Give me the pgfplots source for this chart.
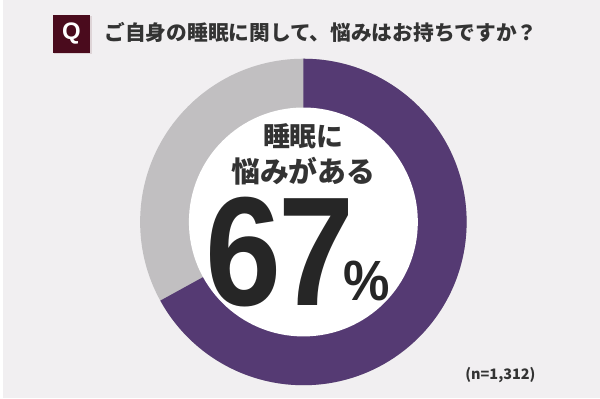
\documentclass[border=0pt]{standalone}
\usepackage{pgfplots}
\pgfplotsset{compat=1.18}
\usepackage{pgfplotstable}
\usepackage{fontspec}
\setmainfont{Liberation Sans}
\newfontfamily\jp{Noto Sans CJK JP}

\definecolor{bg}{HTML}{F1EFF1}
\definecolor{ringpurple}{HTML}{553A73}
\definecolor{ringgray}{HTML}{C1BFC1}
\definecolor{qbox}{HTML}{4A0B1D}
\definecolor{txt}{HTML}{333333}

% share of respondents (n=1,312)
\pgfplotstableread{
label value
yes 67
no 33
}\sleepdata

\begin{document}
\pgfplotstablegetelem{0}{value}\of\sleepdata
\let\yesval\pgfplotsretval
\pgfplotstablegetelem{1}{value}\of\sleepdata
\let\noval\pgfplotsretval
\pgfmathsetmacro{\yesangle}{360*(\yesval/(\yesval+\noval))}
\begin{tikzpicture}
  \begin{axis}[
    x=1pt, y=1pt,
    xmin=0, xmax=600, ymin=0, ymax=400,
    scale only axis, hide axis, clip=false
  ]
    \fill[bg] (axis cs:0,0) rectangle (axis cs:600,400);

    % donut
    \fill[ringgray] (axis cs:302,177) circle[radius=164pt];
    \fill[ringpurple] (axis cs:302,177) -- (axis cs:302,341)
      arc[start angle=90, delta angle=-\yesangle, radius=164pt] -- cycle;
    \fill[white] (axis cs:302,177) circle[radius=115pt];

    % question header
    \fill[qbox!25, opacity=0.6] (axis cs:51.5,345.5) rectangle (axis cs:89.5,383.5);
    \fill[qbox] (axis cs:50,347) rectangle (axis cs:88,385);
    \node[white, font=\fontsize{24}{24}\selectfont\bfseries] at (axis cs:69,366) {Q};
    \node[anchor=west, txt, inner sep=0, font=\jp\bfseries\fontsize{20.8}{20.8}\selectfont]
      at (axis cs:102,367) {ご自身の睡眠に関して、悩みはお持ちですか？};

    % centre label
    \node[txt, inner sep=0, font=\jp\bfseries\fontsize{27}{27}\selectfont]
      at (axis cs:302,263) {睡眠に};
    \node[txt, inner sep=0, font=\jp\bfseries\fontsize{29}{29}\selectfont]
      at (axis cs:302,228) {悩みがある};
    \node[anchor=base, inner sep=0, xscale=0.88, color=black!85, font=\fontsize{156}{156}\selectfont\bfseries]
      at (axis cs:271.6,93) {6\kern-0.02em 7\kern-0.1em};
    \node[anchor=base, inner sep=0, xscale=0.92, color=black!85, font=\fontsize{57}{57}\selectfont\bfseries]
      at (axis cs:366,98) {\%};

    \node[txt, inner sep=0, font=\jp\bfseries\fontsize{14.5}{14.5}\selectfont]
      at (axis cs:500,23) {(n=1,312)};
  \end{axis}
\end{tikzpicture}
\end{document}
